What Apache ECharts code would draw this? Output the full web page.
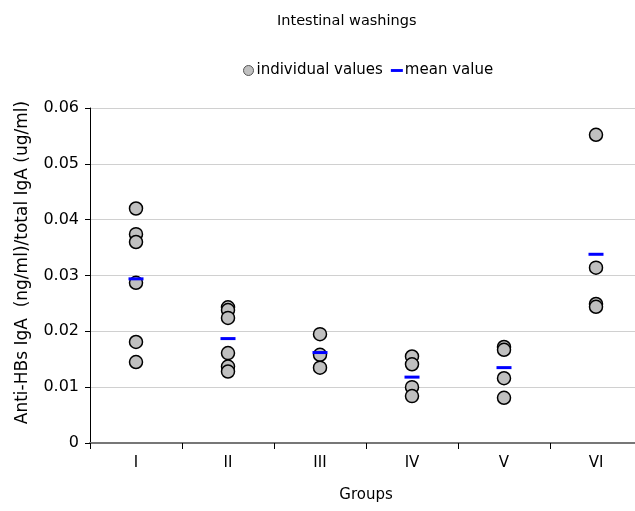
<!DOCTYPE html>
<html>
<head>
<meta charset="utf-8">
<script src="https://cdn.jsdelivr.net/npm/echarts@6/dist/echarts.min.js"></script>
<style>
  html, body { margin: 0; padding: 0; background: #fff; }
  #chart { width: 635px; height: 511px; }
</style>
</head>
<body>
<div id="chart"></div>
<script>
var groups = ['I', 'II', 'III', 'IV', 'V', 'VI'];

// individual values per group
var groupI = [0.042, 0.0374, 0.036, 0.0287, 0.0181, 0.0145];
var groupII = [0.0243, 0.0238, 0.0224, 0.0161, 0.0137, 0.0128];
var groupIII = [0.0195, 0.0158, 0.0135];
var groupIV = [0.0155, 0.0141, 0.0100, 0.0084];
var groupV = [0.0172, 0.0167, 0.0116, 0.0081];
var groupVI = [0.0552, 0.0314, 0.0249, 0.0244];

var meanValues = [0.0294, 0.0187, 0.0162, 0.0118, 0.0135, 0.0338];

var individual = [];
[groupI, groupII, groupIII, groupIV, groupV, groupVI].forEach(function (vals, i) {
    vals.forEach(function (v) { individual.push([i, v]); });
});
var means = meanValues.map(function (v, i) { return [i, v]; });

var font = 'DejaVu Sans, Verdana, sans-serif';
var chart = echarts.init(document.getElementById('chart'));

chart.setOption({
    animation: false,
    title: {
        text: 'Intestinal washings',
        left: 272,
        top: 9,
        textStyle: { fontFamily: font, fontSize: 14.5, fontWeight: 'normal', color: '#000' }
    },
    legend: {
        top: 58,
        left: 238,
        itemGap: 8,
        itemWidth: 12,
        itemHeight: 10,
        textStyle: { fontFamily: font, fontSize: 15, color: '#000', padding: [0, 0, 0, -3] },
        data: [
            { name: 'individual values', icon: 'circle', itemStyle: { color: '#c0c0c0', borderColor: '#555', borderWidth: 1 } },
            { name: 'mean value', icon: 'path://M0,0h10v2.4h-10z' }
        ]
    },
    grid: { left: 90, top: 108, width: 552, height: 335, outerBoundsMode: 'none' },
    xAxis: {
        type: 'category',
        data: groups,
        name: 'Groups',
        nameLocation: 'middle',
        nameGap: 45,
        nameTextStyle: { fontFamily: font, fontSize: 15, color: '#000' },
        axisLine: { lineStyle: { color: '#777', width: 2 } },
        axisTick: { show: true, length: 6, lineStyle: { color: '#000' } },
        axisLabel: { fontFamily: font, fontSize: 15, color: '#000', margin: 13 },
        splitLine: { show: false }
    },
    yAxis: {
        type: 'value',
        min: 0,
        max: 0.06,
        interval: 0.01,
        name: 'Anti-HBs IgA  (ng/ml)/total IgA (ug/ml)',
        nameLocation: 'middle',
        nameGap: 59,
        nameTextStyle: { fontFamily: font, fontSize: 17, color: '#000', padding: [0, 0, 0, 26] },
        axisLine: { show: true, lineStyle: { color: '#000', width: 1 } },
        axisTick: { show: true, length: 5, lineStyle: { color: '#000' } },
        axisLabel: { fontFamily: font, fontSize: 16, color: '#000', margin: 11 },
        splitLine: { lineStyle: { color: '#d0d0d0', width: 1 } }
    },
    series: [
        {
            name: 'individual values',
            type: 'scatter',
            data: individual,
            symbol: 'circle',
            symbolSize: 13,
            itemStyle: { color: '#c0c0c0', borderColor: '#000', borderWidth: 1.5, opacity: 1 }
        },
        {
            name: 'mean value',
            type: 'scatter',
            data: means,
            symbol: 'rect',
            symbolSize: [15, 3],
            itemStyle: { color: '#0000ff', opacity: 1 }
        }
    ]
});
</script>
</body>
</html>
